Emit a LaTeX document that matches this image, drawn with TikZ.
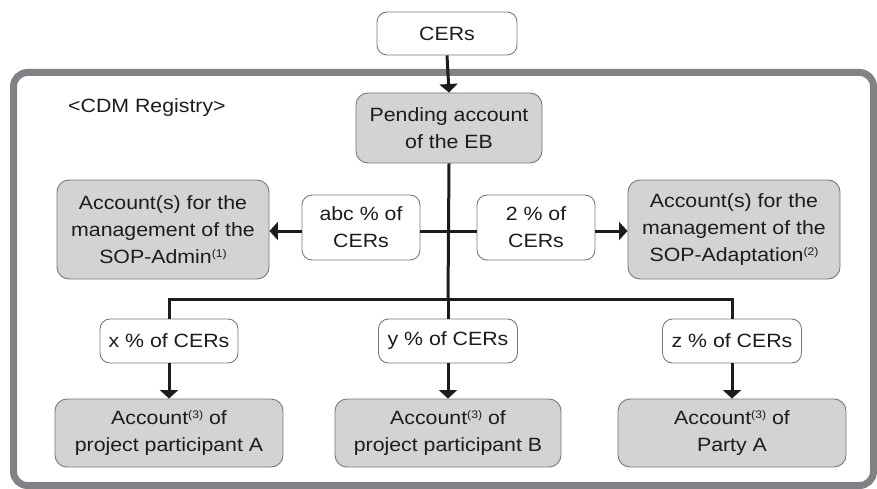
\documentclass[tikz,border=0pt]{standalone}
\usepackage{fontspec}
\setmainfont[FakeStretch=1.11]{Liberation Sans}
\usetikzlibrary{arrows.meta}
\definecolor{inkc}{RGB}{30,27,28}
\definecolor{framec}{RGB}{128,130,133}
\definecolor{edgec}{RGB}{120,120,120}
\definecolor{acctfill}{RGB}{210,211,212}
\newcommand\supr[1]{\raisebox{0.55ex}{\fontsize{11}{11}\selectfont(#1)}}
\tikzset{
  txt/.style={font=\fontsize{19.2}{27}\selectfont, text=inkc, align=center, inner sep=0pt},
  labelbox/.style={txt, draw=edgec, line width=0.9pt, fill=white, rounded corners=10pt},
  acctbox/.style={txt, draw=edgec, line width=0.9pt, fill=acctfill, rounded corners=12pt},
  flow/.style={draw=inkc, line width=3pt},
  flowarrow/.style={flow, -{Triangle[width=18pt,length=8.5pt]}},
}
\begin{document}
\begin{tikzpicture}[x=1pt,y=-1pt]
\useasboundingbox (0,0) rectangle (877,489);

% registry frame
\draw[framec, line width=7pt, rounded corners=14pt] (13.5,72.5) rectangle (873.5,485.5);
\node[txt, anchor=west] (reg) at (68,108) {<CDM Registry>};

% source and pending account
\node[labelbox, minimum width=140pt, minimum height=43pt] (cers) at (447,33.5) {CERs};
\node[acctbox, minimum width=186pt, minimum height=70pt] (pend) at (449,128) {Pending account\\of the EB};

% share-of-proceeds accounts
\node[acctbox, minimum width=212pt, minimum height=99pt] (admin) at (163,229.5)
  {Account(s) for the\\management of the\\SOP-Admin\supr{1}};
\node[acctbox, minimum width=212pt, minimum height=99pt] (adapt) at (734,229.5)
  {Account(s) for the\\management of the\\SOP-Adaptation\supr{2}};
\node[labelbox, minimum width=118pt, minimum height=65pt] (abc) at (361,227.5) {abc \% of\\CERs};
\node[labelbox, minimum width=118pt, minimum height=65pt] (two) at (536,227.5) {2 \% of\\CERs};

% distribution shares
\node[labelbox, minimum width=138pt, minimum height=44pt] (xs) at (169,341) {x \% of CERs};
\node[labelbox, minimum width=139pt, minimum height=44pt] (ys) at (448,341) {y \% of CERs};
\node[labelbox, minimum width=139pt, minimum height=44pt] (zs) at (732,341) {z \% of CERs};

% holding accounts
\node[acctbox, minimum width=228pt, minimum height=68pt] (pa) at (169,433) {Account\supr{3} of\\project participant A};
\node[acctbox, minimum width=226pt, minimum height=68pt] (pb) at (448,433) {Account\supr{3} of\\project participant B};
\node[acctbox, minimum width=228pt, minimum height=68pt] (party) at (732,433) {Account\supr{3} of\\Party A};

% junction points
\coordinate (hub) at (448,231);
\coordinate (bus) at (448,299);
\coordinate (busl) at (169,299);
\coordinate (busr) at (732,299);

% connectors
\draw[flowarrow] (cers.south) -- (pend.north);
\draw[flow] (pend.south) -- (bus);
\draw[flow] (abc.east |- hub) -- (two.west |- hub);
\draw[flowarrow] (abc.west |- hub) -- (admin.east |- hub);
\draw[flowarrow] (two.east |- hub) -- (adapt.west |- hub);
\draw[flow] (xs.north) -- (busl) -- (busr) -- (zs.north);
\draw[flow] (bus) -- (ys.north);
\draw[flowarrow] (xs.south) -- (pa.north);
\draw[flowarrow] (ys.south) -- (pb.north);
\draw[flowarrow] (zs.south) -- (party.north);
\end{tikzpicture}
\end{document}
